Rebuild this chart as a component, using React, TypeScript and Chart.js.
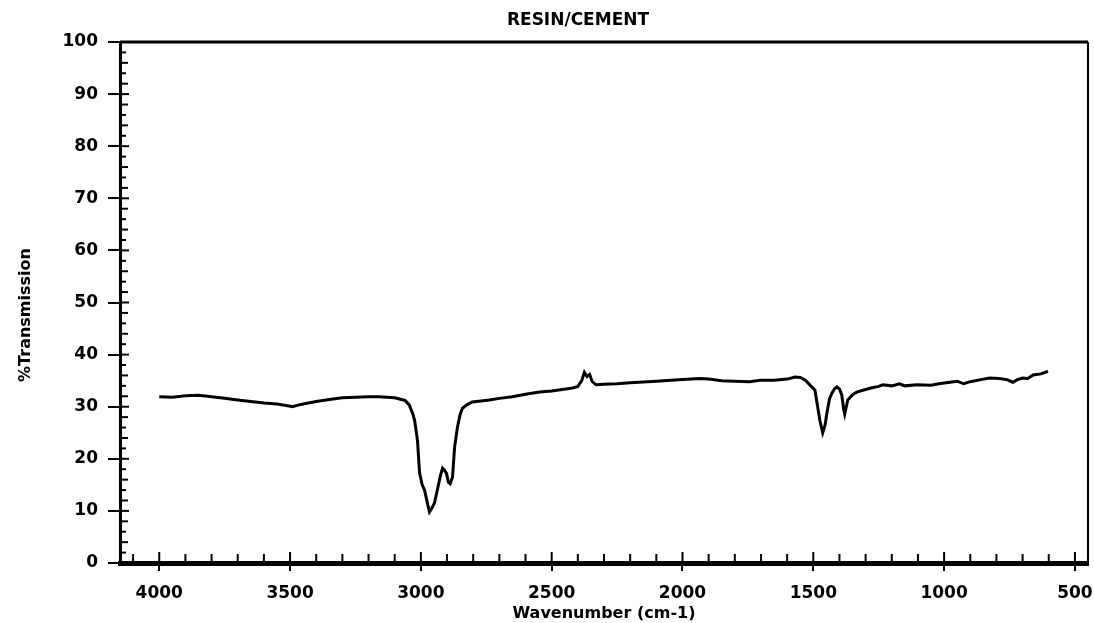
import React, { useEffect, useRef } from "react";
import { Chart, registerables } from "chart.js";

Chart.register(...registerables);

const TITLE = "RESIN/CEMENT";
const X_TITLE = "Wavenumber (cm-1)";
const Y_TITLE = "%Transmission";

const wavenumbers = [
  4000, 3950, 3900, 3850, 3800, 3750, 3700, 3650, 3600, 3550, 3510, 3490, 3470, 3440, 3400,
  3350, 3300, 3250, 3200, 3160, 3100, 3060, 3044, 3030, 3024, 3013, 3005, 2995, 2986, 2975,
  2967, 2958, 2948, 2935, 2925, 2917, 2910, 2902, 2895, 2888, 2879, 2871, 2860, 2850, 2841,
  2820, 2803, 2770, 2738, 2700, 2650, 2600, 2546, 2500, 2460, 2420, 2400, 2385, 2375, 2365,
  2355, 2345, 2330, 2300, 2250, 2200, 2100, 2000, 1934, 1900, 1850, 1800, 1743, 1700, 1650,
  1600, 1570, 1550, 1530, 1510, 1494, 1485, 1475, 1464, 1455, 1448, 1438, 1429, 1418, 1410,
  1400, 1391, 1384, 1380, 1374, 1368, 1350, 1334, 1300, 1280, 1250, 1234, 1200, 1170, 1150,
  1104, 1050, 1020, 978, 950, 925, 900, 860, 825, 790, 760, 737, 720, 700, 680,
  660, 630, 603,
];

const transmission = [
  31.9, 31.8, 32.1, 32.2, 31.9, 31.6, 31.3, 31.0, 30.7, 30.5, 30.2, 30.0, 30.3, 30.6, 31.0,
  31.4, 31.7, 31.8, 31.9, 31.9, 31.7, 31.2, 30.3, 28.5, 27.4, 23.6, 17.3, 15.0, 14.0, 11.5,
  9.8, 10.5, 11.5, 14.5, 16.8, 18.2, 17.8, 17.2, 15.5, 15.2, 16.5, 22.3, 26.1, 28.5, 29.7,
  30.5, 30.9, 31.1, 31.3, 31.6, 31.9, 32.4, 32.8, 33.0, 33.3, 33.6, 33.9, 35.0, 36.6, 35.8,
  36.2, 34.8, 34.2, 34.3, 34.4, 34.6, 34.9, 35.2, 35.4, 35.3, 35.0, 34.9, 34.8, 35.1, 35.1,
  35.3, 35.7, 35.6, 35.1, 34.0, 33.2, 30.5, 27.4, 25.0, 26.5, 28.8, 31.5, 32.6, 33.5, 33.8,
  33.4, 32.2, 29.5, 28.6, 30.0, 31.3, 32.3, 32.8, 33.3, 33.6, 33.9, 34.2, 34.0, 34.4, 34.0,
  34.2, 34.1, 34.4, 34.7, 34.9, 34.4, 34.8, 35.2, 35.5, 35.4, 35.2, 34.7, 35.2, 35.5, 35.4,
  36.1, 36.3, 36.8,
];

const X_TICKS = [4000, 3500, 3000, 2500, 2000, 1500, 1000, 500];
const Y_TICKS = [0, 10, 20, 30, 40, 50, 60, 70, 80, 90, 100];

const X_MIN = 450;
const X_MAX = 4150;
const X_MINOR = 100;
const Y_MIN = 0;
const Y_MAX = 100;
const Y_MINOR = 2;

const FONT = "'DejaVu Sans', sans-serif";

const framePlugin = {
  id: "frameAndTitle",
  afterDraw(chart: any) {
    const { ctx, chartArea } = chart;
    const xs = chart.scales.x;
    const ys = chart.scales.y;
    ctx.save();
    ctx.strokeStyle = "#000";
    // top and right frame
    ctx.lineWidth = 3;
    ctx.beginPath();
    ctx.moveTo(chartArea.left, chartArea.top);
    ctx.lineTo(chartArea.right, chartArea.top);
    ctx.stroke();
    ctx.lineWidth = 2;
    ctx.beginPath();
    ctx.moveTo(chartArea.right, chartArea.top);
    ctx.lineTo(chartArea.right, chartArea.bottom);
    ctx.stroke();
    // inner minor ticks on x
    ctx.lineWidth = 2;
    for (let v = Math.ceil(X_MIN / X_MINOR) * X_MINOR; v <= X_MAX; v += X_MINOR) {
      const px = xs.getPixelForValue(v);
      const major = X_TICKS.includes(v);
      ctx.beginPath();
      ctx.moveTo(px, chartArea.bottom);
      ctx.lineTo(px, chartArea.bottom - (major ? 11 : 9));
      ctx.stroke();
    }
    // inner minor ticks on y
    for (let v = Y_MIN; v <= Y_MAX; v += Y_MINOR) {
      const py = ys.getPixelForValue(v);
      const len = Y_TICKS.includes(v) ? 9 : v % 4 === 0 ? 8 : 6;
      ctx.beginPath();
      ctx.moveTo(chartArea.left, py);
      ctx.lineTo(chartArea.left + len, py);
      ctx.stroke();
    }
    ctx.fillStyle = "#000";
    // title
    ctx.font = `bold 17px ${FONT}`;
    ctx.textAlign = "center";
    ctx.textBaseline = "middle";
    ctx.fillText(TITLE, 578, 21);
    // y axis title
    ctx.font = `bold 16px ${FONT}`;
    ctx.translate(26, 315);
    ctx.rotate(-Math.PI / 2);
    ctx.fillText(Y_TITLE, 0, 0);
    ctx.restore();
  },
};

export default function App() {
  const ref = useRef<HTMLCanvasElement | null>(null);

  useEffect(() => {
    if (!ref.current) return;
    const points = wavenumbers.map((w, i) => ({ x: w, y: transmission[i] }));
    const chart = new Chart(ref.current, {
      type: "scatter",
      data: {
        datasets: [
          {
            data: points,
            showLine: true,
            borderColor: "#000",
            borderWidth: 3,
            pointRadius: 0,
            tension: 0,
          },
        ],
      },
      options: {
        responsive: false,
        animation: false,
        layout: { padding: { top: 42, right: 6, left: 0, bottom: 0 } },
        plugins: {
          legend: { display: false },
          tooltip: { enabled: false },
          title: { display: false },
        },
        scales: {
          x: {
            type: "linear",
            reverse: true,
            min: X_MIN,
            max: X_MAX,
            afterFit: (s: any) => {
              s.height = 60;
              s.paddingLeft = 0;
              s.paddingRight = 0;
            },
            afterBuildTicks: (s: any) => {
              s.ticks = X_TICKS.map((v) => ({ value: v }));
            },
            ticks: {
              autoSkip: false,
              color: "#000",
              padding: 12,
              maxRotation: 0,
              minRotation: 0,
              font: { family: FONT, size: 17, weight: "bold" },
              callback: (v: any) => String(v),
            },
            grid: {
              drawOnChartArea: false,
              drawTicks: true,
              tickLength: 8,
              color: "#000",
              lineWidth: 2,
            },
            border: { display: true, color: "#000", width: 5 },
            title: {
              display: true,
              text: X_TITLE,
              color: "#000",
              font: { family: FONT, size: 16, weight: "bold" },
              padding: { top: 0, bottom: 0 },
            },
          },
          y: {
            type: "linear",
            min: Y_MIN,
            max: Y_MAX,
            afterFit: (s: any) => {
              s.width = 120;
            },
            afterBuildTicks: (s: any) => {
              s.ticks = Y_TICKS.map((v) => ({ value: v }));
            },
            ticks: {
              autoSkip: false,
              color: "#000",
              padding: 10,
              font: { family: FONT, size: 17, weight: "bold" },
              callback: (v: any) => String(v),
            },
            grid: {
              drawOnChartArea: false,
              drawTicks: true,
              tickLength: 12,
              color: "#000",
              lineWidth: 2,
            },
            border: { display: true, color: "#000", width: 3 },
            title: { display: false },
          },
        },
      },
      plugins: [framePlugin],
    });
    return () => chart.destroy();
  }, []);

  return (
    <div style={{ position: "absolute", left: 0, top: 0, width: 1094, height: 623, background: "#fff" }}>
      <canvas ref={ref} width={1094} height={623} style={{ display: "block" }} />
    </div>
  );
}
